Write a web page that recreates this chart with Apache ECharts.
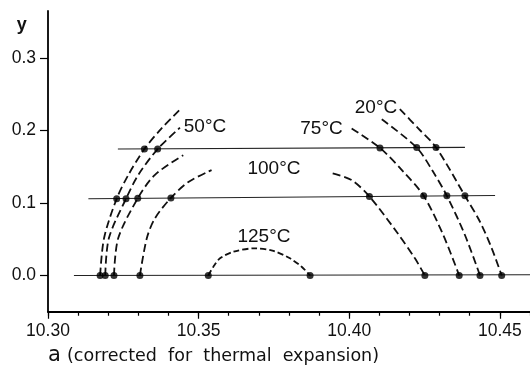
<!DOCTYPE html>
<html>
<head>
<meta charset="utf-8">
<script src="https://cdn.jsdelivr.net/npm/echarts@6/dist/echarts.min.js"></script>
<style>html,body{margin:0;padding:0;background:#fff;}#chart{width:530px;height:366px;}</style>
</head>
<body>
<div id="chart"></div>
<script>
// ---- data ----
const xTickLabels = [10.30, 10.35, 10.40, 10.45];
const yTickLabels = [0.0, 0.1, 0.2, 0.3];

// horizontal tie lines
const tieBottom = [[10.3086, 0.0], [10.4600, 0.001]];
const tieMiddle = [[10.3134, 0.106], [10.4484, 0.1105]];
const tieTop = [[10.3232, 0.1745], [10.4384, 0.1768]];

// measured points
const pointsBottom = [[10.3173, 0], [10.3190, 0], [10.3219, 0], [10.3305, 0], [10.3532, 0],
                      [10.3870, 0], [10.4251, 0], [10.4365, 0], [10.4434, 0], [10.4506, 0]];
const pointsMiddle = [[10.3228, 0.106], [10.3259, 0.106], [10.3298, 0.1065], [10.3408, 0.107],
                      [10.4067, 0.109], [10.4247, 0.110], [10.4324, 0.110], [10.4384, 0.110]];
const pointsTop = [[10.3320, 0.1745], [10.3364, 0.1745], [10.4102, 0.176], [10.4224, 0.1765], [10.4288, 0.1768]];

// dashed solvus curves
const left20 = [[10.3173, 0], [10.3186, 0.0514], [10.3228, 0.106], [10.3267, 0.139], [10.3320, 0.1745], [10.3377, 0.203], [10.3443, 0.231]];
const left50 = [[10.3190, 0], [10.3202, 0.0514], [10.3259, 0.106], [10.3300, 0.139], [10.3364, 0.1745], [10.3438, 0.204]];
const left75 = [[10.3219, 0], [10.3233, 0.0514], [10.3298, 0.1065], [10.3355, 0.139], [10.3449, 0.166]];
const left100 = [[10.3305, 0], [10.3328, 0.0514], [10.3355, 0.0789], [10.3408, 0.107], [10.3466, 0.129], [10.3543, 0.1455]];
const right100 = [[10.3945, 0.141], [10.4008, 0.1317], [10.4067, 0.109], [10.4157, 0.0604], [10.4218, 0.0237], [10.4251, 0]];
const right75 = [[10.4008, 0.203], [10.4102, 0.176], [10.4180, 0.143], [10.4247, 0.110], [10.4312, 0.0559], [10.4365, 0]];
const right50 = [[10.4108, 0.2156], [10.4224, 0.1765], [10.4277, 0.1441], [10.4324, 0.110], [10.4384, 0.0559], [10.4434, 0]];
const right20 = [[10.4168, 0.2297], [10.4229, 0.203], [10.4288, 0.1768], [10.4384, 0.110], [10.4434, 0.0742], [10.4473, 0.0375], [10.4506, 0]];
const dome125 = [[10.3532, 0], [10.3549, 0.0121], [10.3571, 0.0237], [10.3615, 0.0328], [10.3687, 0.0375],
                 [10.3748, 0.034], [10.3803, 0.0237], [10.3842, 0.0121], [10.3870, 0]];

const tempLabels = ['50°C', '100°C', '125°C', '75°C', '20°C'];

// ---- chart ----
const chart = echarts.init(document.getElementById('chart'), null, {renderer: 'canvas'});
const INK = '#111';
const tickFont = {fontFamily: 'Liberation Sans', fontSize: 17.5, color: INK};

function tie(d) {
  return {type: 'line', data: d, symbol: 'none', silent: true,
          lineStyle: {color: '#222', width: 1.1}, z: 2};
}
function curve(d, dash) {
  return {type: 'line', data: d, symbol: 'none', smooth: 0.3, silent: true,
          lineStyle: {color: INK, width: 1.8, type: dash || [8, 4]}, z: 3};
}

const labelFont = '19px "Liberation Sans"';
const labelPos = [[205, 127], [274, 169], [264, 237], [321.5, 129], [376, 107.5]];

chart.setOption({
  animation: false,
  backgroundColor: '#fff',
  grid: {left: 48, right: 0, top: 11, bottom: 54.25},
  xAxis: [{
    type: 'value', min: 10.30, max: 10.46, interval: 0.01,
    axisLine: {onZero: false, lineStyle: {color: '#000', width: 1.8}},
    axisTick: {length: 4, lineStyle: {color: '#000', width: 1.2}},
    axisLabel: {show: false},
    splitLine: {show: false}
  }, {
    type: 'value', min: 10.30, max: 10.46, interval: 0.05, position: 'bottom',
    axisLine: {show: false, onZero: false},
    axisTick: {customValues: xTickLabels, length: 7, lineStyle: {color: '#000', width: 1.2}},
    axisLabel: Object.assign({customValues: xTickLabels, margin: 10,
      formatter: v => v.toFixed(2)}, tickFont),
    splitLine: {show: false}
  }],
  yAxis: {
    type: 'value', min: -0.05, max: 0.365,
    axisLine: {show: true, onZero: false, lineStyle: {color: '#000', width: 1.8}},
    axisTick: {show: true, customValues: yTickLabels, length: 8, lineStyle: {color: '#000', width: 1.2}},
    axisLabel: Object.assign({customValues: yTickLabels, margin: 12,
      formatter: v => v.toFixed(1)}, tickFont),
    splitLine: {show: false}
  },
  graphic: [
    {type: 'text', x: 21.7, y: 25.3, style: {text: 'y', font: 'bold 18px "Liberation Sans"', fill: INK, align: 'center', verticalAlign: 'middle'}},
    {type: 'text', x: 48, y: 355.5, style: {text: 'a', font: '21px "DejaVu Sans"', fill: INK, align: 'left', verticalAlign: 'middle'}},
    {type: 'text', x: 67, y: 356.5, style: {text: '(corrected  for  thermal  expansion)', font: '17.5px "DejaVu Sans"', fill: INK, align: 'left', verticalAlign: 'middle'}}
  ].concat(tempLabels.map((t, i) => ({
    type: 'text', x: labelPos[i][0], y: labelPos[i][1], z: 10,
    style: {text: t, font: labelFont, fill: INK, align: 'center', verticalAlign: 'middle'}
  }))),
  series: [
    tie(tieBottom), tie(tieMiddle), tie(tieTop),
    curve(left20), curve(left50), curve(left75), curve(left100),
    curve(right100), curve(right75), curve(right50), curve(right20),
    curve(dome125, [6, 3]),
    {type: 'scatter', data: pointsBottom.concat(pointsMiddle, pointsTop), symbol: 'circle', symbolSize: 7,
     itemStyle: {color: '#000'}, silent: true, z: 5}
  ]
});
</script>
</body>
</html>
